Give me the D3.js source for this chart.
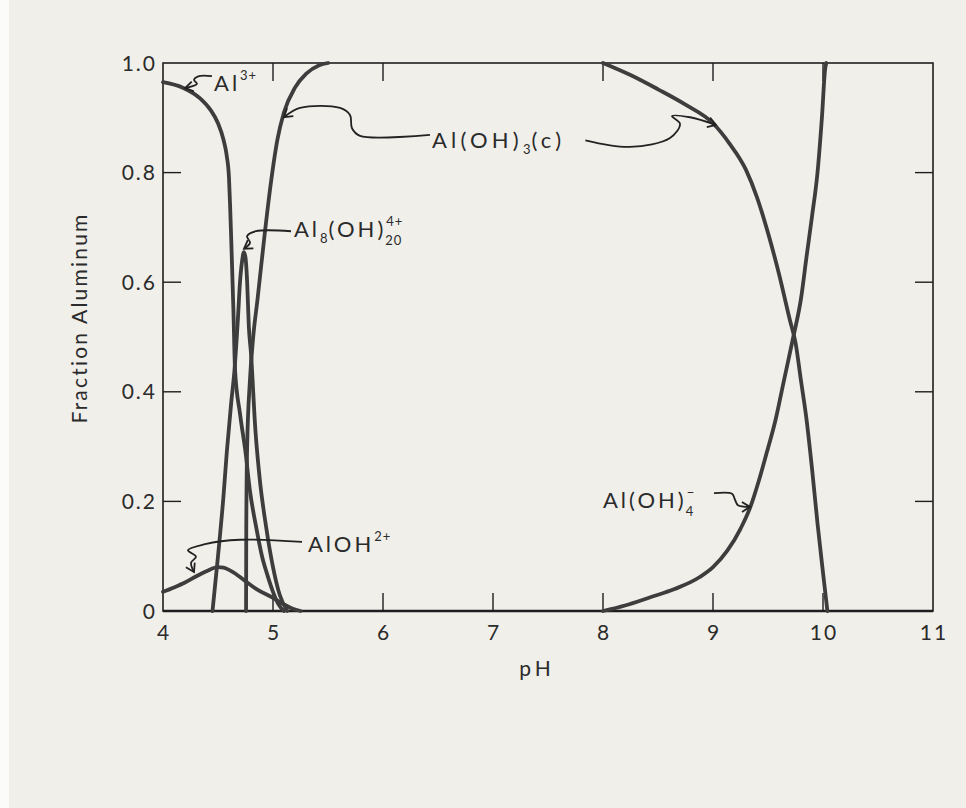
<!DOCTYPE html>
<html>
<head>
<meta charset="utf-8">
<script src="https://cdn.jsdelivr.net/npm/d3@7"></script>
<style>
  body { margin: 0; background: #f0efea; }
  svg { display: block; }
  .tick-label, .ann, .axis-title { font-family: Lato, "DejaVu Sans", sans-serif; fill: #2b2b2b; }
</style>
</head>
<body>
<script>
// pH vs fraction of aluminum
var al3 = [[4.0,0.965],[4.18,0.955],[4.34,0.935],[4.43,0.915],[4.5,0.89],[4.55,0.86],[4.58,0.83],
           [4.6,0.79],[4.61,0.74],[4.62,0.68],[4.64,0.55],[4.655,0.44],[4.7,0.36],[4.75,0.29],
           [4.79,0.22],[4.85,0.15],[4.9,0.10],[4.95,0.065],[5.0,0.035],[5.05,0.012],[5.1,0]];
var alOH = [[4.0,0.035],[4.1,0.043],[4.2,0.052],[4.3,0.063],[4.4,0.073],[4.5,0.08],[4.55,0.079],
            [4.6,0.075],[4.7,0.062],[4.76,0.053],[4.85,0.04],[5.0,0.024],[5.1,0.012],[5.18,0.004],[5.25,0]];
var al8 = [[4.45,0],[4.5,0.1],[4.55,0.21],[4.58,0.29],[4.62,0.38],[4.65,0.44],[4.68,0.53],[4.7,0.6],
           [4.72,0.64],[4.735,0.655],[4.75,0.645],[4.765,0.6],[4.78,0.52],[4.8,0.47],[4.84,0.33],
           [4.88,0.24],[4.94,0.15],[5.0,0.08],[5.06,0.03],[5.13,0]];
var alOH3Acid = [[4.755,0],[4.757,0.15],[4.765,0.3],[4.79,0.42],[4.82,0.5],[4.86,0.57],[4.92,0.68],
                 [4.98,0.78],[5.04,0.86],[5.1,0.91],[5.2,0.955],[5.3,0.98],[5.42,0.996],[5.5,1.0]];
var alOH3Base = [[8.0,1.0],[8.25,0.978],[8.5,0.952],[8.75,0.924],[9.0,0.89],[9.15,0.853],[9.3,0.805],
                 [9.4,0.755],[9.5,0.69],[9.6,0.615],[9.7,0.53],[9.75,0.49],[9.8,0.42],[9.85,0.35],
                 [9.9,0.26],[9.95,0.16],[10.0,0.07],[10.04,0]];
var alOH4 = [[8.0,0],[8.2,0.01],[8.43,0.025],[8.65,0.04],[8.88,0.062],[9.0,0.08],[9.13,0.11],
             [9.25,0.15],[9.34,0.19],[9.42,0.24],[9.49,0.29],[9.57,0.35],[9.64,0.416],[9.73,0.5],
             [9.8,0.57],[9.85,0.646],[9.9,0.72],[9.95,0.80],[9.99,0.9],[10.02,0.99],[10.03,1.0]];

var xTicks = [4, 5, 6, 7, 8, 9, 10, 11];
var yTicks = [0, 0.2, 0.4, 0.6, 0.8, 1.0];
var yTickText = ["0", "0.2", "0.4", "0.6", "0.8", "1.0"];
var topTicks = [5, 6, 8, 9, 10];

// hand drawn leader lines, [pH, fraction]
var leaderAl3 = [[4.445,0.976],[4.327,0.976],[4.282,0.969],[4.309,0.962],[4.2,0.954]];
var leaderAlOH3a = [[6.427,0.869],[5.791,0.867],[5.718,0.881],[5.7,0.905],[5.609,0.918],[5.245,0.918],[5.1,0.901]];
var leaderAlOH3b = [[7.84,0.859],[8.245,0.847],[8.609,0.863],[8.7,0.889],[8.627,0.903],[8.791,0.901],[9.027,0.887]];
var leaderAl8 = [[5.164,0.693],[4.845,0.693],[4.764,0.684],[4.791,0.672],[4.736,0.661]];
var leaderAlOH = [[5.264,0.126],[4.7,0.130],[4.382,0.122],[4.227,0.111],[4.3,0.099],[4.255,0.088],[4.282,0.071]];
var leaderAlOH4 = [[9.009,0.215],[9.173,0.214],[9.2,0.203],[9.227,0.193],[9.336,0.190]];

var w = 966, h = 808;
var svg = d3.select("body").append("svg").attr("width", w).attr("height", h);

svg.append("rect").attr("width", w).attr("height", h).attr("fill", "#f0efea");
svg.append("rect").attr("width", 9).attr("height", h).attr("fill", "#fbfbfa");

var x = d3.scaleLinear().domain([4, 11]).range([163, 933]);
var y = d3.scaleLinear().domain([0, 1]).range([611, 63]);

var defs = svg.append("defs");
defs.append("marker")
    .attr("id", "arrow")
    .attr("viewBox", "-10 -6 12 12")
    .attr("markerWidth", 12).attr("markerHeight", 12)
    .attr("markerUnits", "userSpaceOnUse")
    .attr("orient", "auto")
  .append("path")
    .attr("d", "M-8,-5 L0,0 L-8,5")
    .attr("fill", "none").attr("stroke", "#222").attr("stroke-width", 1.8);

// frame
var frame = svg.append("g").attr("stroke", "#1e1e1e").attr("fill", "none");
frame.append("rect")
    .attr("x", x(4)).attr("y", y(1))
    .attr("width", x(11) - x(4)).attr("height", y(0) - y(1))
    .attr("stroke-width", 1.6);
frame.append("line")
    .attr("x1", x(4)).attr("x2", x(11)).attr("y1", y(0)).attr("y2", y(0))
    .attr("stroke-width", 2.6);

// inner ticks
var tl = 18;
frame.selectAll(".bt").data(xTicks.filter(d => d > 4 && d < 11)).enter().append("line")
    .attr("x1", d => x(d)).attr("x2", d => x(d))
    .attr("y1", y(0)).attr("y2", y(0) - tl).attr("stroke-width", 1.4);
frame.selectAll(".tt").data(topTicks).enter().append("line")
    .attr("x1", d => x(d)).attr("x2", d => x(d))
    .attr("y1", y(1)).attr("y2", y(1) + tl).attr("stroke-width", 1.4);
frame.selectAll(".lt").data(yTicks.filter(d => d > 0 && d < 1)).enter().append("line")
    .attr("x1", x(4)).attr("x2", x(4) + tl)
    .attr("y1", d => y(d)).attr("y2", d => y(d)).attr("stroke-width", 1.4);
frame.selectAll(".rt").data(yTicks.filter(d => d > 0 && d < 1)).enter().append("line")
    .attr("x1", x(11)).attr("x2", x(11) - tl)
    .attr("y1", d => y(d)).attr("y2", d => y(d)).attr("stroke-width", 1.4);

// tick labels
svg.selectAll(".xl").data(xTicks).enter().append("text")
    .attr("class", "tick-label")
    .attr("x", d => x(d) + 1).attr("y", y(0) + 29)
    .attr("text-anchor", "middle")
    .style("font-size", "21px").style("letter-spacing", "2px")
    .text(d => d);
svg.selectAll(".yl").data(yTicks).enter().append("text")
    .attr("class", "tick-label")
    .attr("x", x(4) - 6).attr("y", d => y(d)).attr("dy", "0.36em")
    .attr("text-anchor", "end")
    .style("font-size", "21px").style("letter-spacing", "2px")
    .text((d, i) => yTickText[i]);

svg.append("text").attr("class", "axis-title")
    .attr("x", 537).attr("y", 676).attr("text-anchor", "middle")
    .style("font-size", "21px").style("letter-spacing", "4px")
    .text("pH");
svg.append("text").attr("class", "axis-title")
    .attr("transform", "translate(87, 318) rotate(-90)")
    .attr("text-anchor", "middle")
    .style("font-size", "21px").style("letter-spacing", "2.2px")
    .text("Fraction Aluminum");

// curves
var line = d3.line().x(d => x(d[0])).y(d => y(d[1])).curve(d3.curveMonotoneX);
svg.append("g").selectAll("path")
    .data([alOH, al3, al8, alOH3Acid, alOH3Base, alOH4])
    .enter().append("path")
    .attr("d", line)
    .attr("fill", "none")
    .attr("stroke", "#3d3d3d")
    .attr("stroke-width", 3.8)
    .attr("stroke-linejoin", "round")
    .attr("stroke-linecap", "round");

// leaders
var leader = d3.line().x(d => x(d[0])).y(d => y(d[1])).curve(d3.curveCatmullRom);
svg.append("g").selectAll("path")
    .data([leaderAl3, leaderAlOH3a, leaderAlOH3b, leaderAl8, leaderAlOH, leaderAlOH4])
    .enter().append("path")
    .attr("d", leader)
    .attr("fill", "none")
    .attr("stroke", "#222")
    .attr("stroke-width", 1.8)
    .attr("marker-end", "url(#arrow)");

// species labels: parts are [text, kind]; "sup"/"sub" are shifted, "stack" sits under the previous sup
function species(px, f, parts, ls) {
  var t = svg.append("text").attr("class", "ann")
      .attr("x", x(px)).attr("y", y(f))
      .style("font-size", "22px").style("letter-spacing", (ls || 3) + "px");
  var shift = 0, prev = null;
  parts.forEach(function(p) {
    var s = t.append("tspan").text(p[0]);
    var target = 0;
    if (p[1] === "sup") target = -11;
    if (p[1] === "sub") target = 6;
    if (p[1] === "stack") target = 8;
    if (p[1]) s.style("font-size", "13px").style("letter-spacing", "1px");
    s.attr("dy", target - shift);
    if (p[1] === "stack" && prev) s.attr("dx", -prev.node().getComputedTextLength() - 1);
    shift = target;
    prev = s;
  });
  return t;
}

species(4.464, 0.949, [["Al"], ["3+", "sup"]]);
species(6.445, 0.845, [["Al(OH)"], ["3", "sub"], ["(c)"]], 4.2);
species(5.191, 0.682, [["Al"], ["8", "sub"], ["(OH)"], ["4+", "sup"], ["20", "stack"]]);
species(5.318, 0.108, [["AlOH"], ["2+", "sup"]]);
species(8.0, 0.188, [["Al(OH)"], ["\u2212", "sup"], ["4", "stack"]]);
</script>
</body>
</html>
